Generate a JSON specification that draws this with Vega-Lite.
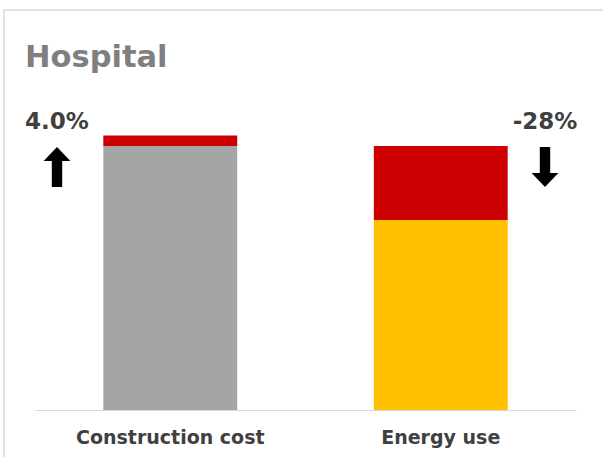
{
  "$schema": "https://vega.github.io/schema/vega-lite/v6.json",
  "width": 620,
  "height": 470,
  "autosize": {"type": "none"},
  "padding": {"left": 4, "top": 10, "right": 0, "bottom": 0},
  "background": "white",
  "config": {
    "view": {"stroke": "#d9d9d9", "strokeWidth": 1.5},
    "font": "DejaVu Sans"
  },
  "title": {
    "text": "Hospital",
    "anchor": "start",
    "frame": "group",
    "font": "DejaVu Sans",
    "fontSize": 30.5,
    "fontWeight": "bold",
    "color": "#7f7f7f",
    "dx": 21,
    "dy": 63,
    "offset": 0
  },
  "layer": [
    {
      "data": {
        "values": [
          {"category": "Construction cost", "part": "base", "value": 100},
          {"category": "Construction cost", "part": "increase", "value": 4},
          {"category": "Energy use", "part": "remaining", "value": 72},
          {"category": "Energy use", "part": "saving", "value": 28}
        ]
      },
      "mark": {"type": "bar", "width": {"band": 0.495}},
      "encoding": {
        "x": {
          "field": "category",
          "type": "nominal",
          "scale": {
            "domain": ["Construction cost", "Energy use"],
            "range": [31, 572],
            "paddingInner": 0,
            "paddingOuter": 0
          },
          "axis": {
            "title": null,
            "labelAngle": 0,
            "ticks": false,
            "domainColor": "#d9d9d9",
            "domainWidth": 1,
            "labelFont": "DejaVu Sans",
            "labelFontWeight": "bold",
            "labelFontSize": 19,
            "labelColor": "#404040",
            "labelPadding": 18,
            "labelLimit": 400,
            "offset": -70
          }
        },
        "y": {
          "field": "value",
          "type": "quantitative",
          "stack": "zero",
          "scale": {"domain": [0, 100], "range": [400, 136], "nice": false},
          "axis": null
        },
        "order": {"field": "part", "type": "ordinal", "sort": "ascending"},
        "color": {
          "field": "part",
          "type": "nominal",
          "scale": {
            "domain": ["base", "increase", "remaining", "saving"],
            "range": ["#a5a5a5", "#cc0000", "#ffc000", "#cc0000"]
          },
          "legend": null
        }
      }
    },
    {
      "data": {
        "values": [
          {"direction": "up", "label": "4.0%"},
          {"direction": "down", "label": "-28%"}
        ]
      },
      "encoding": {
        "x": {
          "field": "direction",
          "type": "nominal",
          "scale": {"type": "point", "domain": ["up", "down"], "range": [53, 541], "padding": 0},
          "axis": null
        }
      },
      "layer": [
        {
          "mark": {"type": "text", "font": "DejaVu Sans", "fontWeight": "bold", "fontSize": 23, "color": "#404040", "baseline": "middle", "align": "center"},
          "encoding": {
            "y": {"datum": 109},
            "text": {"field": "label"}
          }
        },
        {
          "mark": {"type": "point", "filled": true, "color": "black", "opacity": 1, "size": 1600, "strokeWidth": 0},
          "encoding": {
            "y": {"datum": 92},
            "shape": {
              "field": "direction",
              "type": "nominal",
              "scale": {
                "domain": ["up", "down"],
                "range": [
                  "M -0.26 1 L 0.26 1 L 0.26 -0.3 L 0.67 -0.3 L 0 -1 L -0.67 -0.3 L -0.26 -0.3 Z",
                  "M -0.26 -1 L 0.26 -1 L 0.26 0.3 L 0.67 0.3 L 0 1 L -0.67 0.3 L -0.26 0.3 Z"
                ]
              },
              "legend": null
            }
          }
        }
      ]
    }
  ],
  "resolve": {"scale": {"x": "independent"}}
}
